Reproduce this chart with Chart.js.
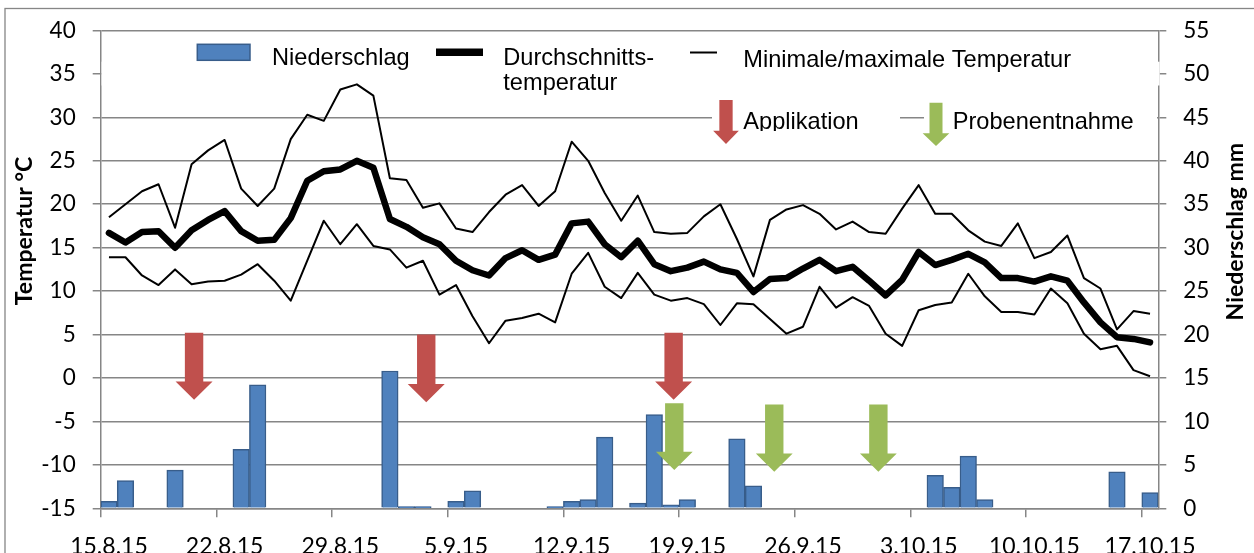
<!DOCTYPE html>
<html>
<head>
<meta charset="utf-8">
<script src="https://cdn.jsdelivr.net/npm/chart.js@4/dist/chart.umd.min.js"></script>
<style>
html,body{margin:0;padding:0;background:#fff;}
#wrap{width:1254px;height:553px;position:relative;overflow:hidden;}
canvas{display:block;}
</style>
</head>
<body>
<div id="wrap"><canvas id="c" width="1254" height="553"></canvas></div>
<script>
// ---- categories (days) ----
const dates = [
 "15.8.15","16.8.15","17.8.15","18.8.15","19.8.15","20.8.15","21.8.15","22.8.15","23.8.15","24.8.15",
 "25.8.15","26.8.15","27.8.15","28.8.15","29.8.15","30.8.15","31.8.15","1.9.15","2.9.15","3.9.15",
 "4.9.15","5.9.15","6.9.15","7.9.15","8.9.15","9.9.15","10.9.15","11.9.15","12.9.15","13.9.15",
 "14.9.15","15.9.15","16.9.15","17.9.15","18.9.15","19.9.15","20.9.15","21.9.15","22.9.15","23.9.15",
 "24.9.15","25.9.15","26.9.15","27.9.15","28.9.15","29.9.15","30.9.15","1.10.15","2.10.15","3.10.15",
 "4.10.15","5.10.15","6.10.15","7.10.15","8.10.15","9.10.15","10.10.15","11.10.15","12.10.15","13.10.15",
 "14.10.15","15.10.15","16.10.15","17.10.15"
];

// ---- series ----
const niederschlag = [
 0.8,3.2,0,0,4.4,0,0,0,6.8,14.2,
 0,0,0,0,0,0,0,15.8,0.2,0.2,
 0,0.8,2.0,0,0,0,0,0.2,0.8,1.0,
 8.2,0,0.6,10.8,0.4,1.0,0,0,8.0,2.6,
 0,0,0,0,0,0,0,0,0,0,
 3.8,2.4,6.0,1.0,0,0,0,0,0,0,
 0,4.2,0,1.8
];
const tMax = [
 18.5,20.0,21.5,22.3,17.3,24.6,26.2,27.4,21.8,19.8,
 21.8,27.5,30.3,29.6,33.2,33.8,32.5,23.0,22.8,19.6,
 20.1,17.2,16.8,19.1,21.1,22.2,19.8,21.5,27.2,25.0,
 21.3,18.1,21.0,16.8,16.6,16.7,18.6,20.0,16.0,11.7,
 18.2,19.4,19.9,18.9,17.1,18.0,16.8,16.6,19.5,22.2,
 18.9,18.9,17.0,15.7,15.2,17.8,13.8,14.5,16.4,11.5,
 10.3,5.6,7.7,7.4
];
const tAvg = [
 16.7,15.6,16.8,16.9,15.0,17.0,18.2,19.2,16.9,15.8,
 15.9,18.4,22.7,23.8,24.0,25.0,24.2,18.3,17.4,16.2,
 15.4,13.5,12.4,11.8,13.8,14.7,13.6,14.2,17.8,18.0,
 15.4,13.9,15.8,13.1,12.3,12.7,13.4,12.5,12.1,9.9,
 11.4,11.5,12.6,13.6,12.3,12.8,11.2,9.5,11.3,14.5,
 13.0,13.6,14.3,13.3,11.5,11.5,11.1,11.7,11.2,8.7,
 6.4,4.7,4.5,4.1
];
const tMin = [
 13.9,13.9,11.8,10.7,12.5,10.8,11.1,11.2,11.9,13.1,
 11.2,8.9,13.5,18.1,15.4,17.7,15.2,14.8,12.7,13.5,
 9.6,10.7,7.1,4.0,6.6,6.9,7.4,6.4,12.0,14.4,
 10.5,9.2,12.1,9.6,8.9,9.2,8.5,6.1,8.6,8.5,
 6.8,5.1,5.9,10.5,8.1,9.3,8.3,5.1,3.7,7.8,
 8.4,8.7,12.0,9.4,7.6,7.6,7.3,10.3,8.6,5.1,
 3.3,3.7,0.9,0.2
];

// ---- annotation arrows (category index, top/tip in °C) ----
const applikationIdx = [5.15, 19.2, 34.17];
const applikationTop = [5.2, 5.0, 5.2];
const applikationTip = [-2.5, -2.8, -2.5];
const probenIdx = [34.21, 40.26, 46.56];
const probenTop = [-2.9, -3.05, -3.05];
const probenTip = [-10.6, -10.8, -10.8];

// ---- axis ticks ----
const tempMin = -15, tempMax = 40, rainMin = 0, rainMax = 55, tickStep = 5;
const labelEvery = 7;

const GRID = '#868686';
const RED = '#C0504D';
const GREEN = '#9BBB59';
const TICKFONT = {family: 'Lato', size: 22.5};
const LEGFONT = '23.6px "Liberation Sans", Arial, sans-serif';

function arrow(c, cx, yTop, yTip, shaftW, headW, headH, color) {
  const yNeck = yTip - headH;
  c.save();
  c.beginPath();
  c.moveTo(cx - shaftW / 2, yTop);
  c.lineTo(cx + shaftW / 2, yTop);
  c.lineTo(cx + shaftW / 2, yNeck);
  c.lineTo(cx + headW / 2, yNeck);
  c.lineTo(cx, yTip);
  c.lineTo(cx - headW / 2, yNeck);
  c.lineTo(cx - shaftW / 2, yNeck);
  c.closePath();
  c.fillStyle = color;
  c.fill();
  c.restore();
}

const deco = {
  id: 'deco',
  beforeDraw(chart) {
    const c = chart.ctx;
    c.save();
    c.fillStyle = '#fff';
    c.fillRect(0, 0, chart.width, chart.height);
    c.strokeStyle = GRID;
    c.lineWidth = 1.3;
    c.strokeRect(5, 8.5, 1400, 800);
    c.restore();
  },
  beforeDatasetsDraw(chart) {
    // legend / text-box backgrounds covering gridlines
    const c = chart.ctx;
    c.save();
    c.fillStyle = '#fff';
    c.fillRect(101.6, 61.7, 1159.6 - 101.6, 85.5 - 61.7);
    c.fillRect(712, 100, 900 - 712, 135 - 100);
    c.fillRect(924, 100, 1157 - 924, 135 - 100);
    c.restore();
  },
  afterDatasetsDraw(chart) {
    const c = chart.ctx;
    const xs = chart.scales.x, ys = chart.scales.y;
    for (let k = 0; k < applikationIdx.length; k++) {
      arrow(c, xs.getPixelForValue(applikationIdx[k]), ys.getPixelForValue(applikationTop[k]),
            ys.getPixelForValue(applikationTip[k]), 18.4, 37, 18.3, RED);
    }
    for (let k = 0; k < probenIdx.length; k++) {
      arrow(c, xs.getPixelForValue(probenIdx[k]), ys.getPixelForValue(probenTop[k]),
            ys.getPixelForValue(probenTip[k]), 18.4, 36.8, 18.3, GREEN);
    }
  },
  afterDraw(chart) {
    const c = chart.ctx;
    c.save();
    // ---- legend ----
    c.fillStyle = '#4F81BD';
    c.fillRect(197.3, 44.3, 52.7, 16);
    c.strokeStyle = '#385D8A';
    c.lineWidth = 1.5;
    c.strokeRect(197.3, 44.3, 52.7, 16);

    c.fillStyle = '#000';
    c.font = LEGFONT;
    c.textAlign = 'left';
    c.textBaseline = 'alphabetic';
    c.fillText('Niederschlag', 272, 65);

    c.strokeStyle = '#000';
    c.lineCap = 'butt';
    c.lineWidth = 7.5;
    c.beginPath(); c.moveTo(436, 52.3); c.lineTo(483, 52.3); c.stroke();
    c.fillText('Durchschnitts-', 503.3, 65);
    c.fillText('temperatur', 503.3, 90);

    c.lineWidth = 2;
    c.beginPath(); c.moveTo(690, 52.5); c.lineTo(717, 52.5); c.stroke();
    c.fillText('Minimale/maximale Temperatur', 743.3, 66.7);

    arrow(c, 726, 100, 144, 13.3, 25.7, 13.3, RED);
    c.fillStyle = '#000';
    c.save();
    c.beginPath(); c.rect(740, 100, 140, 31); c.clip();
    c.fillText('Applikation', 743.3, 129.3);
    c.restore();

    arrow(c, 936, 102.7, 146, 13, 26.7, 12.7, GREEN);
    c.fillStyle = '#000';
    c.fillText('Probenentnahme', 952.7, 129.3);

    // ---- axis titles ----
    c.fillStyle = '#000';
    c.font = 'bold 23px Lato, sans-serif';
    c.textAlign = 'center';
    c.textBaseline = 'alphabetic';
    c.save();
    c.translate(32, 231);
    c.rotate(-Math.PI / 2);
    c.fillText('Temperatur °C', 0, 0);
    c.restore();
    c.save();
    c.translate(1243, 231.7);
    c.rotate(-Math.PI / 2);
    c.fillText('Niederschlag mm', 0, 0);
    c.restore();
    c.restore();
  }
};

new Chart(document.getElementById('c').getContext('2d'), {
  type: 'bar',
  data: {
    labels: dates,
    datasets: [
      {type: 'line', label: 'Durchschnittstemperatur', data: tAvg, yAxisID: 'y',
       borderColor: '#000', borderWidth: 6.5, pointRadius: 0, tension: 0,
       borderJoinStyle: 'round', borderCapStyle: 'round', order: 1},
      {type: 'line', label: 'Maximale Temperatur', data: tMax, yAxisID: 'y',
       borderColor: '#000', borderWidth: 2, pointRadius: 0, tension: 0,
       borderJoinStyle: 'round', order: 2},
      {type: 'line', label: 'Minimale Temperatur', data: tMin, yAxisID: 'y',
       borderColor: '#000', borderWidth: 2, pointRadius: 0, tension: 0,
       borderJoinStyle: 'round', order: 3},
      {type: 'bar', label: 'Niederschlag', data: niederschlag.map(v => v > 0 ? v : null), yAxisID: 'y1',
       backgroundColor: '#4F81BD', borderColor: '#385D8A', borderWidth: 1.5,
       barPercentage: 1, categoryPercentage: 1, order: 5}
    ]
  },
  options: {
    responsive: false,
    animation: false,
    devicePixelRatio: 1,
    layout: {padding: {top: 28.3, bottom: 0, left: 0, right: 0}},
    plugins: {legend: {display: false}, tooltip: {enabled: false}},
    scales: {
      x: {
        type: 'category',
        offset: true,
        grid: {offset: true, drawOnChartArea: false, tickLength: 9, lineWidth: 1.5,
               tickColor: ctx => (ctx.index !== undefined && ctx.index % labelEvery === 0) ? GRID : 'rgba(0,0,0,0)'},
        border: {color: GRID, width: 1.5},
        ticks: {autoSkip: false, maxRotation: 0, minRotation: 0, padding: 15, color: '#000', font: {family: 'Lato', size: 23},
                callback: (v, i) => (i % labelEvery === 0 ? dates[i] : '')},
        afterFit: s => { s.height = 44.7; }
      },
      y: {
        position: 'left',
        min: tempMin, max: tempMax,
        ticks: {stepSize: tickStep, padding: 17, color: '#000', font: TICKFONT},
        grid: {color: GRID, lineWidth: 1.5, tickLength: 8},
        border: {color: GRID, width: 1.5},
        afterFit: s => { s.width = 100.7; }
      },
      y1: {
        position: 'right',
        min: rainMin, max: rainMax,
        ticks: {stepSize: tickStep, padding: 17, color: '#000', font: TICKFONT},
        grid: {drawOnChartArea: false, color: GRID, lineWidth: 1.5, tickLength: 8},
        border: {color: GRID, width: 1.5},
        afterFit: s => { s.width = 95.7; }
      }
    }
  },
  plugins: [deco]
});
</script>
</body>
</html>
